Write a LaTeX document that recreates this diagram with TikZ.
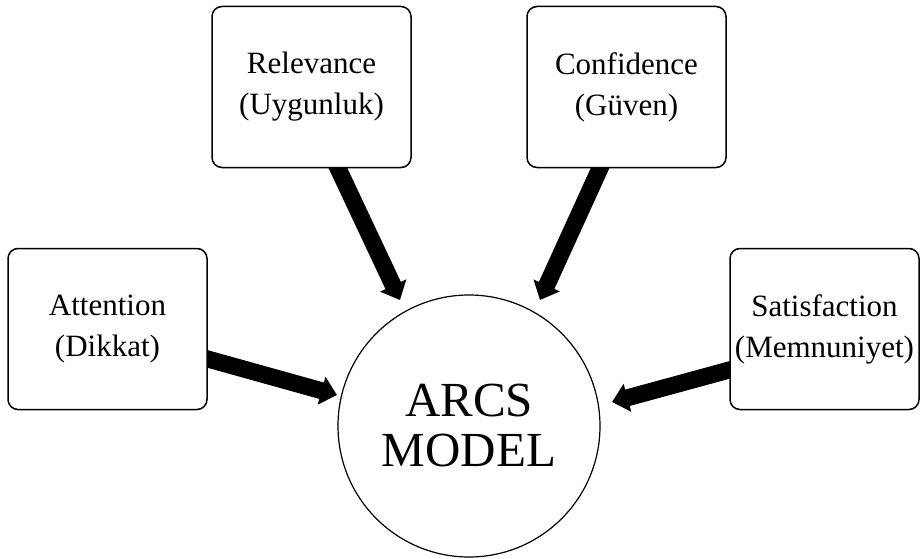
\documentclass[tikz,border=0pt]{standalone}
\usepackage{fontspec}
\setmainfont{Liberation Serif}
\usetikzlibrary{arrows.meta,positioning,backgrounds}

\begin{document}
\begin{tikzpicture}[x=0.5pt,y=0.5pt,
          part/.style={draw, line width=0.75pt, rounded corners=5pt, fill=white, align=center,
            minimum width=99.5pt, minimum height=80.5pt, inner sep=0pt,
            font=\fontsize{15.5}{20.5}\selectfont},
          core/.style={circle, draw, line width=0.6pt, fill=white, minimum size=131pt, inner sep=0pt,
            align=center, font=\fontsize{24.5}{25}\selectfont},
          push/.style={line width=8.5pt, shorten <=-6pt, -{Triangle[length=8pt,width=14pt]}}]
        \useasboundingbox (0,0) rectangle (920,558);
        \node[part] (rel) at (311.5,471) {Relevance\\(Uygunluk)};
        \node[part] (conf) at (626.5,471) {Confidence\\(Güven)};
        \node[part] (att) at (107.5,229) {Attention\\(Dikkat)};
        \node[part, minimum width=94.5pt] (sat) at (824.5,229) {Satisfaction\\(Memnuniyet)};
        \node[core] (arcs) at (469,132) {ARCS\\MODEL};
        \coordinate (tipR) at (400,258);
        \coordinate (tipC) at (540,258);
        \coordinate (tipA) at (337,163);
        \coordinate (tipS) at (612,156);
        \begin{scope}[on background layer]
          \draw[push] ([xshift=13.25pt]rel.south) -- (tipR);
          \draw[push] ([xshift=-13.25pt]conf.south) -- (tipC);
          \draw[push] ([yshift=-15pt]att.east) -- (tipA);
          \draw[push] ([yshift=-20.5pt]sat.west) -- (tipS);
        \end{scope}
      \end{tikzpicture}
\end{document}
